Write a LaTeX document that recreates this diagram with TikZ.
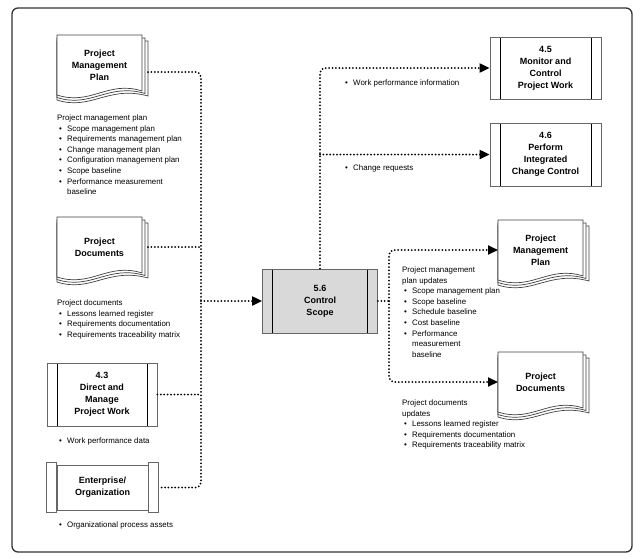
\documentclass[tikz,border=0pt]{standalone}
\usepackage{fontspec}
\setmainfont{Liberation Sans}
\usetikzlibrary{arrows.meta,positioning,calc}

\newcommand{\bitem}{\makebox[10pt][l]{\hspace{2pt}\textbullet}}
\newcommand{\bcont}{\hspace*{10pt}}

\tikzset{
  dotline/.style={line width=2pt, line cap=round, dash pattern=on 0pt off 3.4pt},
  flow/.style={dotline, -{Triangle[length=10pt,width=9pt]}},
  boxbase/.style={draw=black!60, line width=0.8pt, fill=white, align=center, inner sep=0pt,
    font=\fontsize{9}{12}\selectfont\bfseries},
  procbox/.style={boxbase,
    path picture={
      \draw[black, line width=0.8pt] ([xshift=10pt]path picture bounding box.north west)
        -- ([xshift=10pt]path picture bounding box.south west);
      \draw[black, line width=0.8pt] ([xshift=-10pt]path picture bounding box.north east)
        -- ([xshift=-10pt]path picture bounding box.south east);}},
  strip/.style={draw=black!60, line width=0.8pt, fill=white},
  docpage/.style={draw=black!75, line width=0.7pt, fill=white},
  note/.style={anchor=north west, inner sep=0pt, align=left, font=\fontsize{7.9}{10.6}\selectfont},
  pics/docstack/.style={code={
    \def\docW{85}\def\docH{60}
    \foreach \k in {2,1,0}
      \filldraw[docpage] (0,3*\k) -- (\docW+3*\k,3*\k) -- (\docW+3*\k,\docH-4+2.5*\k)
        .. controls (0.6*\docW,\docH-15+2.5*\k) and (0.4*\docW,\docH+11+2.5*\k) .. (0,\docH+2.5*\k) -- cycle;
    \node[align=center, font=\fontsize{9}{12}\selectfont\bfseries] (-txt) at (\docW/2,30) {#1};
    \coordinate (-in) at (0,30);
    \coordinate (-out) at (\docW+6,30);
  }}
}

\begin{document}
\begin{tikzpicture}[x=1pt, y=-1pt]
  \useasboundingbox (0,0) rectangle (640,558);
  % Frame
  \draw[black!80, line width=1.3pt, rounded corners=6pt] (12,8) rectangle (632,552);

  % Inputs
  \pic (pmpL) at (57,35) {docstack={Project\\Management\\Plan}};
  \pic (pdL) at (57,217) {docstack={Project\\Documents}};
  \node[procbox, minimum width=110pt, minimum height=63pt] (dmpw) at (102,394.5) {4.3\\Direct and\\Manage\\Project Work};
  \node[boxbase, minimum width=91pt, minimum height=45pt] (ent) at (102.5,487.5) {Enterprise/\\Organization};
  \draw[strip] ([xshift=-10pt,yshift=2pt]ent.north west) rectangle ([yshift=-2pt]ent.south west);
  \draw[strip] ([yshift=2pt]ent.north east) rectangle ([xshift=10pt,yshift=-2pt]ent.south east);

  % Process
  \node[procbox, fill=black!15, minimum width=115pt, minimum height=64pt] (ctrl) at (320,301) {5.6\\Control\\Scope};

  % Outputs
  \node[procbox, minimum width=111pt, minimum height=62pt] (mon) at (545.5,68) {4.5\\Monitor and\\Control\\Project Work};
  \node[procbox, minimum width=111pt, minimum height=63pt] (picc) at (545.5,154.5) {4.6\\Perform\\Integrated\\Change Control};
  \pic (pmpR) at (498,220) {docstack={Project\\Management\\Plan}};
  \pic (pdR) at (498,352) {docstack={Project\\Documents}};

  % Input notes
  \node[note] (pmpLnote) at (57,114.5) {Project management plan\\
    \bitem Scope management plan\\ \bitem Requirements management plan\\
    \bitem Change management plan\\ \bitem Configuration management plan\\
    \bitem Scope baseline\\ \bitem Performance measurement\\ \bcont baseline};
  \node[note] (pdLnote) at (57,299.5) {Project documents\\
    \bitem Lessons learned register\\ \bitem Requirements documentation\\
    \bitem Requirements traceability matrix};
  \node[note] (wpdnote) at (57,437.5) {\bitem Work performance data};
  \node[note] (opanote) at (57,521.5) {\bitem Organizational process assets};

  % Output notes
  \node[note] (wpinote) at (343,79.5) {\bitem Work performance information};
  \node[note] (crnote) at (343,164.5) {\bitem Change requests};
  \node[note] (pmpRnote) at (402,266.5) {Project management\\ plan updates\\
    \bitem Scope management plan\\ \bitem Scope baseline\\ \bitem Schedule baseline\\
    \bitem Cost baseline\\ \bitem Performance\\ \bcont measurement\\ \bcont baseline};
  \node[note] (pdRnote) at (402,399.5) {Project documents\\ updates\\
    \bitem Lessons learned register\\ \bitem Requirements documentation\\
    \bitem Requirements traceability matrix};

  % Input connectors
  \coordinate (jin) at (201,301);
  \draw[dotline, rounded corners=5pt] ([yshift=-7pt]pmpL-out) -| (jin) |- ([xshift=10pt]ent.east);
  \draw[dotline] (pdL-out) -- (pdL-out -| jin);
  \draw[dotline] (dmpw.east) -- (dmpw.east -| jin);
  \draw[flow] (jin) -- (ctrl.west);

  % Output connectors
  \coordinate (jup) at (ctrl.north |- picc.west);
  \draw[flow, rounded corners=5pt] (ctrl.north) |- (mon.west);
  \draw[flow] (jup) -- (picc.west);
  \coordinate (jout) at (389,301);
  \draw[dotline] (ctrl.east) -- (jout);
  \draw[flow, rounded corners=5pt] (jout) |- (pmpR-in);
  \draw[flow, rounded corners=5pt] (jout) |- (pdR-in);
\end{tikzpicture}
\end{document}
